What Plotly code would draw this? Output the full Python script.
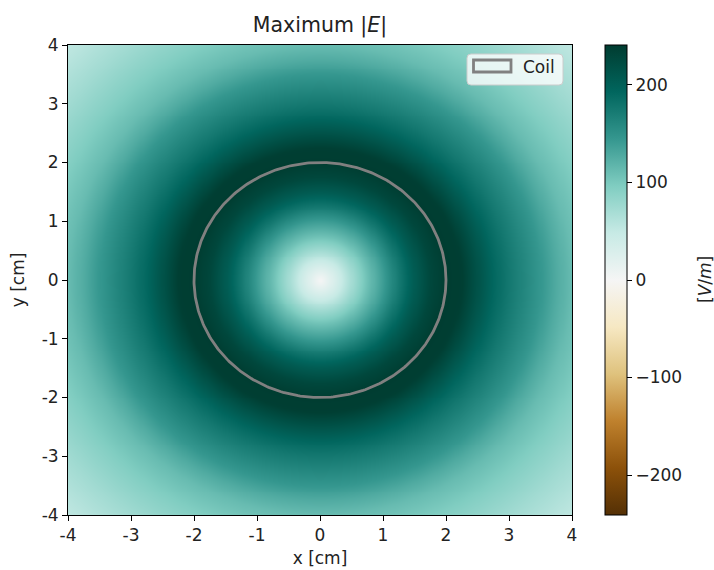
import numpy as np
import plotly.graph_objects as go

# ---- data ----
radius_cm = [0.0, 0.25, 0.5, 0.75, 1.0, 1.25, 1.5, 1.75, 2.0, 2.25, 2.5, 2.75,
             3.0, 3.25, 3.5, 3.75, 4.0, 4.5, 5.0, 5.5, 5.8]
max_E = [0, 35, 72, 108, 140, 175, 205, 228, 240, 238, 215, 192,
         175, 160, 145, 127, 112, 92, 74, 58, 50]
coil_radius = 2.0
tick_vals = [-4, -3, -2, -1, 0, 1, 2, 3, 4]
tick_text = ["-4", "-3", "-2", "-1", "0", "1", "2", "3", "4"]
cbar_ticks = [-200, -100, 0, 100, 200]
vmax = 241

# ---- build grid ----
N = 240
edges = np.linspace(-4, 4, N + 1)
centers = (edges[:-1] + edges[1:]) / 2
X, Y = np.meshgrid(centers, centers)
R = np.sqrt(X**2 + Y**2)
Z = np.interp(R, radius_cm, max_E)

FONT = "DejaVu Sans"
FS = 17
TXT = "#222"
W, H = 714, 570
L, Rm, T, B = 68, 142, 45, 55
pw, ph = W - L - Rm, H - T - B

def px(x):
    return (x - L) / pw

def py(y):
    return (H - B - y) / ph

fig = go.Figure()
fig.add_trace(go.Heatmap(
    x=centers, y=centers, z=Z, colorscale="BrBG", zmin=-vmax, zmax=vmax,
    zsmooth="best",
    colorbar=dict(
        x=px(605), xanchor="left", xref="paper", y=0.5, yanchor="middle",
        len=1.0, lenmode="fraction", thickness=22, thicknessmode="pixels",
        xpad=0, ypad=0,
        outlinewidth=1, outlinecolor="black",
        tickmode="array", tickvals=cbar_ticks,
        ticks="outside", ticklen=5, tickwidth=1, tickcolor="black",
        tickfont=dict(family=FONT, size=FS, color=TXT),
    ),
    hoverinfo="skip",
))

theta = np.linspace(0, 2 * np.pi, 361)
fig.add_trace(go.Scatter(
    x=coil_radius * np.cos(theta), y=coil_radius * np.sin(theta),
    mode="lines", line=dict(color="#808080", width=2.8), name="Coil",
    showlegend=False, hoverinfo="skip",
))

axis_common = dict(
    range=[-4, 4], tickmode="array", tickvals=tick_vals, ticktext=tick_text,
    ticks="outside", ticklen=5, tickwidth=1, tickcolor="black",
    showline=True, linecolor="black", linewidth=1, mirror=True,
    showgrid=False, zeroline=False, automargin=False,
    tickfont=dict(family=FONT, size=FS, color=TXT),
)
fig.update_xaxes(**axis_common, title=dict(text="x [cm]", font=dict(family=FONT, size=FS, color=TXT), standoff=7))
fig.update_yaxes(**axis_common, title=dict(text="y [cm]", font=dict(family=FONT, size=FS, color=TXT), standoff=12))

# custom legend (box, patch, label)
x0, x1, y0, y1 = px(467), px(563), py(85), py(54)
rx, ry = 4 / pw, 4 / ph
path = (f"M{x0+rx},{y1} L{x1-rx},{y1} Q{x1},{y1} {x1},{y1-ry} "
        f"L{x1},{y0+ry} Q{x1},{y0} {x1-rx},{y0} L{x0+rx},{y0} "
        f"Q{x0},{y0} {x0},{y0+ry} L{x0},{y1-ry} Q{x0},{y1} {x0+rx},{y1} Z")
shapes = [
    dict(type="path", xref="paper", yref="paper", path=path,
         fillcolor="rgba(255,255,255,0.8)", line=dict(color="#cccccc", width=1)),
    dict(type="rect", xref="paper", yref="paper",
         x0=px(473.5), x1=px(511), y0=py(72), y1=py(60),
         fillcolor="rgba(0,0,0,0)", line=dict(color="#808080", width=2.8)),
]
annotations = [
    dict(text="Coil", x=px(521), y=py(67), xref="paper", yref="paper",
         xanchor="left", yanchor="middle", showarrow=False,
         font=dict(family=FONT, size=FS, color=TXT)),
    dict(text="[<i>V</i>/<i>m</i>]", x=px(705), y=0.5, xref="paper", yref="paper",
         xanchor="center", yanchor="middle", textangle=-90, showarrow=False,
         font=dict(family=FONT, size=FS, color=TXT)),
]

fig.update_layout(
    width=W, height=H, autosize=False,
    margin=dict(l=L, r=Rm, t=T, b=B, autoexpand=False),
    paper_bgcolor="white", plot_bgcolor="white",
    title=dict(text="Maximum |<i>E</i>|", x=px(320), xref="paper", xanchor="center",
               y=1 - 25 / H, yref="container", yanchor="middle",
               font=dict(family=FONT, size=20.5, color=TXT)),
    shapes=shapes, annotations=annotations, showlegend=False,
)

fig.write_html("out.html")
